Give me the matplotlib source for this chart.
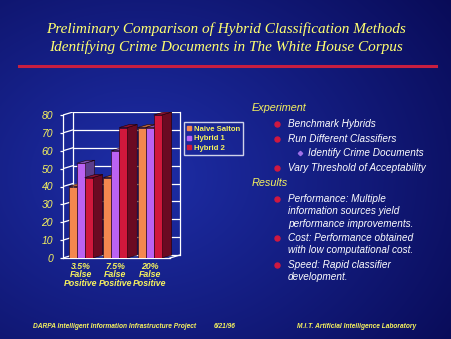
import numpy as np
import matplotlib
matplotlib.use('Agg')
from matplotlib import pyplot as plt
from matplotlib.lines import Line2D

# Slide data

groups = ['3.5%\nFalse\nPositive', '7.5%\nFalse\nPositive', '20%\nFalse\nPositive']
series = ['Naive Salton', 'Hybrid 1', 'Hybrid 2']
naive = [40, 45, 73]
hybrid1 = [53, 60, 73]
hybrid2 = [45, 73, 80]
yticks = [0, 10, 20, 30, 40, 50, 60, 70, 80]

title_lines = ['Preliminary Comparison of Hybrid Classification Methods',
               'Identifying Crime Documents in The White House Corpus']
experiment = ['Benchmark Hybrids', 'Run Different Classifiers', 'Vary Threshold of Acceptability']
sub_item = 'Identify Crime Documents'
results = [['Performance: Multiple', 'information sources yield', 'performance improvements.'],
           ['Cost: Performance obtained', 'with low computational cost.'],
           ['Speed: Rapid classifier', 'development.']]
footer = ['DARPA Intelligent Information Infrastructure Project', '6/21/96',
          'M.I.T. Artificial Intelligence Laboratory']

# Styling

W, H = 452, 339
YELLOW = '#f6f25e'
front_cols = ['#f4874f', '#bb62f2', '#d0183c']
side_cols = ['#8c4424', '#5b3d8c', '#6a0a22']
top_cols = ['#b8683a', '#7d50b0', '#8a1230']

def fx(px):
    return px / W

def fy(py):
    return 1 - py / H

fig = plt.figure(figsize=(W / 100, H / 100), dpi=100)

# Blue background gradient
bg = fig.add_axes([0, 0, 1, 1])
yy, xx = np.mgrid[0:H, 0:W]
d = np.sqrt(((xx - 140) / 420.0) ** 2 + ((yy - 175) / 330.0) ** 2)
d = np.clip(d, 0, 1)[..., None]
inner = np.array([0x1e, 0x2e, 0xa8]) / 255.0
outer = np.array([0x07, 0x08, 0x50]) / 255.0
bg.imshow(inner * (1 - d) + outer * d, aspect='auto', extent=[0, 1, 0, 1])
bg.axis('off')

# Title and rule
for k, line in enumerate(title_lines):
    fig.text(0.5, fy(29 + k * 17.7), line, ha='center', va='center', color='#ffff70',
             fontsize=11, fontstyle='italic', family='Liberation Serif')
fig.add_artist(Line2D([fx(19), fx(436)], [fy(66.3), fy(66.3)], lw=2.2, color='#c81e40'))

# 3D style column chart
gpx = 34.5           # pixels per group
ypx = 1.7875         # pixels per y unit
front_w = 107 / gpx
dx = 10 / gpx
dy = 3 / ypx
off = 5.7 / gpx
bw = 8 / gpx

ax = fig.add_axes([fx(63), fy(258), (107 + 10) / W, (80 * ypx + 3) / H])
ax.set_xlim(0, front_w + dx)
ax.set_ylim(0, 80 + dy)
ax.patch.set_visible(False)
for s in ['top', 'right', 'bottom']:
    ax.spines[s].set_visible(False)
ax.spines['left'].set_bounds(0, 80)
ax.spines['left'].set_color('white')
ax.spines['left'].set_linewidth(0.9)
ax.set_xticks([])
ax.set_yticks(yticks)
ax.set_yticklabels([str(t) for t in yticks], fontstyle='italic', fontsize=7.5,
                   family='Liberation Sans')
ax.tick_params(axis='y', length=2.2, width=0.9, color='white', labelcolor=YELLOW, pad=5)

# walls and gridlines
xend = front_w + dx
for t in yticks[1:]:
    ax.plot([dx, xend], [t + dy, t + dy], color='white', lw=0.9, zorder=1)
    ax.plot([0, dx], [t, t + dy], color='white', lw=0.9, zorder=1)
ax.plot([dx, dx], [dy, 80 + dy], color='white', lw=0.9, zorder=1)
ax.plot([xend, xend], [dy, 80 + dy], color='white', lw=0.9, zorder=1, clip_on=False)
ax.plot([0, dx], [0, dy], color='white', lw=0.9, zorder=1)
ax.plot([dx, xend], [dy, dy], color='white', lw=0.9, zorder=1)
ax.plot([0, front_w], [0, 0], color='white', lw=0.9, zorder=1, clip_on=False)
ax.plot([front_w, xend], [0, dy], color='white', lw=0.9, zorder=1, clip_on=False)

vals = [naive, hybrid1, hybrid2]
k = 0
for i in range(len(groups)):
    for j in range(len(series)):
        h = vals[j][i]
        left = i + off + j * bw
        z = 3 + k * 0.1
        ax.fill([left + bw, left + bw + dx, left + bw + dx, left + bw], [0, dy, h + dy, h],
                color=side_cols[j], ec='#1a0008', lw=0.4, zorder=z)
        ax.fill([left, left + dx, left + bw + dx, left + bw], [h, h + dy, h + dy, h],
                color=top_cols[j], ec='#1a0008', lw=0.4, zorder=z)
        ax.bar(left, h, bw, align='edge', color=front_cols[j], ec='#1a0008', lw=0.4, zorder=z)
        k += 1
    ax.text(i + off + 1.5 * bw, -2.0, groups[i], ha='center', va='top', color=YELLOW,
            fontsize=6.3, fontstyle='italic', fontweight='bold', family='Liberation Sans',
            linespacing=0.95, clip_on=False)

handles = [Line2D([], [], ls='', marker='s', markersize=2.5, color=c) for c in front_cols]
leg = ax.legend(handles, series, loc='upper left', bbox_to_anchor=(fx(184), fy(122)),
                bbox_transform=fig.transFigure, borderaxespad=0, fancybox=False,
                facecolor='none', edgecolor='white', handlelength=0.5, handletextpad=0.35,
                borderpad=0.4, labelspacing=0.3,
                prop={'family': 'Liberation Sans', 'weight': 'bold', 'size': 5.6})
leg.get_frame().set_linewidth(1)
for t in leg.get_texts():
    t.set_color(YELLOW)

# Bullet text on the right
txt = dict(color='white', fontsize=7.2, fontstyle='italic', family='Liberation Sans', va='center')
head = dict(color=YELLOW, fontsize=7.8, fontstyle='italic', family='Liberation Sans', va='center')

def bullet(y):
    fig.add_artist(Line2D([fx(277)], [fy(y)], ls='', marker='o', markersize=3.6,
                          color='#d01840'))

fig.text(fx(252), fy(108), 'Experiment', **head)
for y, item in zip([124, 139, 168], experiment):
    bullet(y)
    fig.text(fx(288), fy(y), item, **txt)
fig.add_artist(Line2D([fx(300)], [fy(153.3)], ls='', marker='D', markersize=2.2,
                      color='#a070e8'))
fig.text(fx(308), fy(153.3), sub_item, **txt)

fig.text(fx(252), fy(183), 'Results', **head)
for y, lines in zip([199, 238, 265], results):
    bullet(y)
    for n, line in enumerate(lines):
        fig.text(fx(288), fy(y + n * 12.3), line, **txt)

# Footer
foot = dict(color=YELLOW, fontsize=4.8, fontstyle='italic', fontweight='bold',
            family='Liberation Sans', va='center')
for x, s in zip([33, 214, 297], footer):
    fig.text(fx(x), fy(327), s, **foot)

fig.savefig('out.png', dpi=100)
